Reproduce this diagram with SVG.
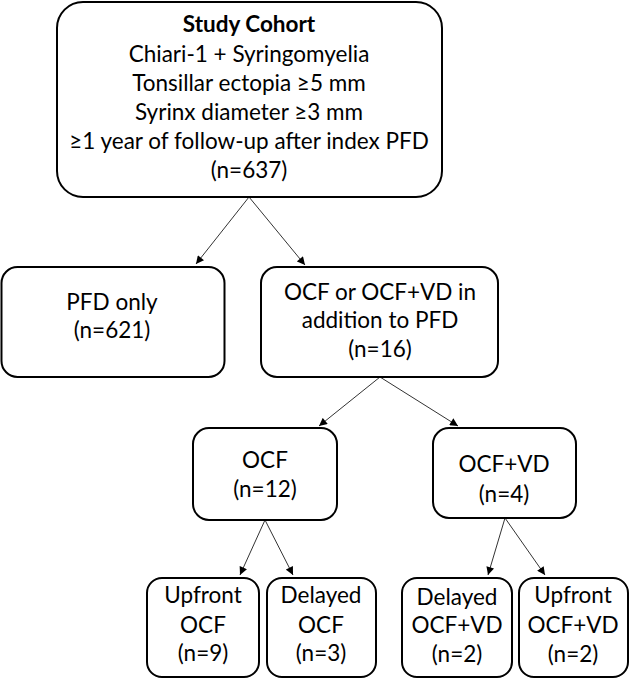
<svg xmlns="http://www.w3.org/2000/svg" width="630" height="679" viewBox="0 0 630 679">
<defs>
<style>
.box{fill:#fff;stroke:#000;stroke-width:2}
text{font-family:Lato,"Open Sans","Liberation Sans",sans-serif;font-size:22.5px;fill:#000;text-anchor:middle}
.b{font-weight:bold}
.c{stroke:#333;stroke-width:1;fill:none;marker-end:url(#ah)}
</style>
<marker id="ah" viewBox="0 0 10 10" refX="10" refY="5" markerWidth="9" markerHeight="8" markerUnits="userSpaceOnUse" orient="auto">
<path d="M0,0 L10,5 L0,10 z" fill="#000"/>
</marker>
</defs>
<rect width="630" height="679" fill="#fff"/>
<g id="connectors">
<line class="c" x1="249" y1="197" x2="196" y2="264"/>
<line class="c" x1="249" y1="197" x2="305" y2="265"/>
<line class="c" x1="380" y1="377" x2="319" y2="426"/>
<line class="c" x1="380" y1="377" x2="458" y2="426"/>
<line class="c" x1="265" y1="520" x2="240" y2="575"/>
<line class="c" x1="265" y1="520" x2="293" y2="575"/>
<line class="c" x1="505" y1="518" x2="488" y2="575"/>
<line class="c" x1="505" y1="518" x2="545" y2="575"/>
</g>
<g id="cohort">
<rect class="box" x="57" y="2" width="385" height="195" rx="26"/>
<text class="b" x="249" y="32">Study Cohort</text>
<text x="249" y="62">Chiari-1 + Syringomyelia</text>
<text x="249" y="91">Tonsillar ectopia ≥5 mm</text>
<text x="249" y="120">Syrinx diameter ≥3 mm</text>
<text x="249" y="149">≥1 year of follow-up after index PFD</text>
<text x="249" y="178">(n=637)</text>
</g>
<g id="pfd-only">
<rect class="box" x="1.5" y="267" width="223" height="110" rx="16"/>
<text x="112" y="310">PFD only</text>
<text x="112" y="338">(n=621)</text>
</g>
<g id="ocf-or-ocfvd">
<rect class="box" x="261" y="267" width="237" height="110" rx="16"/>
<text x="380" y="300">OCF or OCF+VD in</text>
<text x="380" y="328">addition to PFD</text>
<text x="380" y="357">(n=16)</text>
</g>
<g id="ocf">
<rect class="box" x="193" y="428" width="144" height="92" rx="16"/>
<text x="265" y="468">OCF</text>
<text x="265" y="497">(n=12)</text>
</g>
<g id="ocf-vd">
<rect class="box" x="433" y="428" width="143" height="90" rx="16"/>
<text x="504" y="472">OCF+VD</text>
<text x="504" y="502">(n=4)</text>
</g>
<g id="upfront-ocf">
<rect class="box" x="147" y="578" width="112" height="99" rx="15"/>
<text x="203" y="603">Upfront</text>
<text x="203" y="633">OCF</text>
<text x="203" y="661">(n=9)</text>
</g>
<g id="delayed-ocf">
<rect class="box" x="267" y="578" width="109" height="99" rx="15"/>
<text x="321" y="603">Delayed</text>
<text x="321" y="633">OCF</text>
<text x="321" y="661">(n=3)</text>
</g>
<g id="delayed-ocf-vd">
<rect class="box" x="402" y="578" width="110" height="99" rx="15"/>
<text x="457" y="605">Delayed</text>
<text x="457" y="633">OCF+VD</text>
<text x="457" y="662">(n=2)</text>
</g>
<g id="upfront-ocf-vd">
<rect class="box" x="519" y="578" width="109" height="99" rx="15"/>
<text x="573" y="603">Upfront</text>
<text x="573" y="633">OCF+VD</text>
<text x="573" y="662">(n=2)</text>
</g>
</svg>
